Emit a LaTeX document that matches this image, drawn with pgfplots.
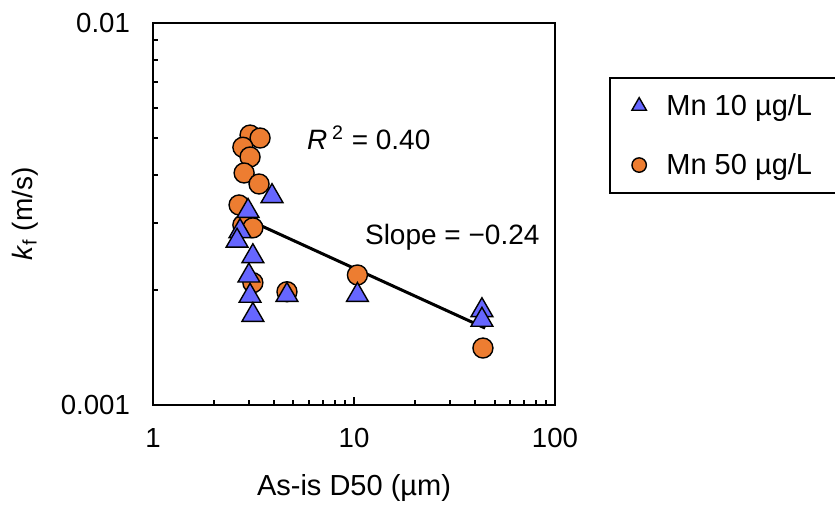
\documentclass[border=0pt]{standalone}
\usepackage{fontspec}
\setmainfont{Liberation Sans}
\usepackage{pgfplots}
\pgfplotsset{compat=1.18}
\definecolor{triblue}{RGB}{102,102,255}
\definecolor{circorange}{RGB}{237,125,49}
\begin{document}
\begin{tikzpicture}[font=\fontsize{14}{16.8}\selectfont]
\begin{axis}[
  xmode=log, ymode=log,
  xmin=1, xmax=100, ymin=0.001, ymax=0.01,
  scale only axis, width=201pt, height=191pt,
  axis line style={line width=1.2pt, black},
  tick pos=left, tick align=inside,
  xtick={1,10,100}, xticklabels={1,10,100},
  ytick={0.001,0.01}, yticklabels={0.001,0.01},
  minor xtick={2,3,4,5,6,7,8,9,20,30,40,50,60,70,80,90},
  minor ytick={0.002,0.003,0.004,0.005,0.006,0.007,0.008,0.009},
  major tick length=4pt, minor tick length=2.5pt,
  tick style={line width=1pt, black},
  ticklabel style={font=\fontsize{13.8}{16}\selectfont},
  xticklabel style={yshift=-8pt},
  yticklabel style={xshift=-8pt},
  xlabel={As-is D50 (µm)},
  ylabel={\textit{k}\textsubscript{f} (m/s)},
  xlabel style={at={(rel axis cs:0.5,-0.217)}, anchor=center, font=\fontsize{14.5}{17}\selectfont},
  ylabel style={at={(rel axis cs:-0.318,0.5)}, anchor=center, font=\fontsize{14}{17}\selectfont},
  legend style={at={(rel axis cs:1.134,0.8586)}, anchor=north west, draw=black, line width=1pt,
    inner xsep=11pt, inner ysep=6pt, row sep=13.5pt, font=\fontsize{14.5}{17}\selectfont,
    /tikz/every odd column/.append style={column sep=8pt}},
  legend cell align=left,
  clip=false,
]
\addlegendimage{only marks, mark=triangle*, mark size=4.2pt, mark options={fill=triblue, draw=black, line width=0.7pt}}
\addlegendentry{Mn 10 µg/L}
\addlegendimage{only marks, mark=*, mark size=3.6pt, mark options={fill=circorange, draw=black, line width=0.7pt}}
\addlegendentry{Mn 50 µg/L}

% Mn 50 ug/L
\addplot[forget plot, only marks, mark=*, mark size=5pt, mark options={fill=circorange, draw=black, line width=0.7pt}]
  coordinates {
  (3.04,0.00509) (3.41,0.00500) (2.80,0.00473) (3.04,0.00446) (2.84,0.00405)
  (3.37,0.00379) (2.68,0.00334) (2.80,0.00296) (3.14,0.00291) (3.14,0.00209)
  (4.64,0.00198) (10.4,0.00219) (43.8,0.00141)
  };
% Mn 10 ug/L
\addplot[forget plot, only marks, mark=triangle*, mark size=6.3pt, mark options={fill=triblue, draw=black, line width=0.7pt}]
  coordinates {
  (3.91,0.00352) (2.97,0.00322) (2.71,0.00285) (2.62,0.00269) (3.14,0.00245)
  (3.00,0.00218) (3.04,0.00193) (3.14,0.00172) (4.64,0.00194) (10.4,0.00194)
  (43.3,0.00177) (43.3,0.00167)
  };
% trend line
\addplot[forget plot, black, line width=1.5pt] coordinates {(2.65,0.00314) (44.9,0.00159)};

\node[anchor=west] at (rel axis cs:0.366,0.699) {\textit{R}\,\textsuperscript{2} = 0.40};
\node[anchor=west] at (rel axis cs:0.510,0.440) {Slope = −0.24};

\coordinate (bbsw) at (rel axis cs:-0.3806,-0.2618);
\coordinate (bbne) at (rel axis cs:1.6965,1.0602);
\end{axis}
\pgfresetboundingbox
\path[use as bounding box] (bbsw) rectangle (bbne);
\end{tikzpicture}
\end{document}
